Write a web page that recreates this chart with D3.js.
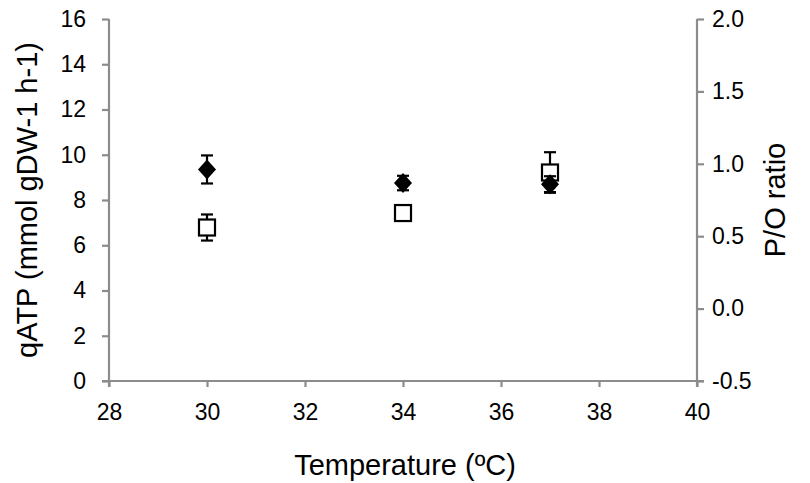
<!DOCTYPE html>
<html>
<head>
<meta charset="utf-8">
<script src="https://cdn.jsdelivr.net/npm/d3@7"></script>
<style>
  body { margin: 0; background: #fff; }
  text { font-family: "Liberation Sans", Arial, sans-serif; fill: #000; }
</style>
</head>
<body>
<script>
// Data
const temps = [30, 34, 37];
const qATP = [9.35, 8.75, 8.7];
const qATPErr = [0.62, 0.32, 0.35];
const poRatio = [0.56, 0.66, 0.94];
const poErr = [0.09, 0.0, 0.14];
const xTicks = [28, 30, 32, 34, 36, 38, 40];
const yLeftTicks = [0, 2, 4, 6, 8, 10, 12, 14, 16];
const yRightTicks = [-0.5, 0.0, 0.5, 1.0, 1.5, 2.0];

const width = 810, height = 483;
const plotLeft = 109, plotRight = 697, plotTop = 19, plotBottom = 381;
const axisColor = '#8c8c8c';

const svg = d3.select('body').append('svg')
  .attr('width', width)
  .attr('height', height);

const x = d3.scaleLinear().domain([28, 40]).range([plotLeft, plotRight]);
const yL = d3.scaleLinear().domain([0, 16]).range([plotBottom, plotTop]);
const yR = d3.scaleLinear().domain([-0.5, 2.0]).range([plotBottom, plotTop]);

// x axis
const xAxis = svg.append('g')
  .attr('transform', `translate(0,${plotBottom})`)
  .call(d3.axisBottom(x).tickValues(xTicks).tickSize(6).tickPadding(17).tickFormat(d3.format('d')));
xAxis.select('.domain').attr('d', `M${plotLeft - 7},0H${plotRight + 7}`);

// left axis
const yAxisL = svg.append('g')
  .attr('transform', `translate(${plotLeft},0)`)
  .call(d3.axisLeft(yL).tickValues(yLeftTicks).tickSize(7).tickPadding(16).tickFormat(d3.format('d')));
yAxisL.select('.domain').attr('d', `M0,${plotTop}V${plotBottom + 6}`);

// right axis (plain hyphen for negatives, like the original)
const yAxisR = svg.append('g')
  .attr('transform', `translate(${plotRight},0)`)
  .call(d3.axisRight(yR).tickValues(yRightTicks).tickSize(7).tickPadding(8)
    .tickFormat((d) => d.toFixed(1)));
yAxisR.select('.domain').attr('d', `M0,${plotTop}V${plotBottom + 6}`);

svg.selectAll('.domain').attr('stroke', axisColor).attr('stroke-width', 2.2);
svg.selectAll('.tick line').attr('stroke', axisColor).attr('stroke-width', 2.2);
svg.selectAll('.tick text')
  .attr('font-size', 23)
  .attr('fill', '#000')
  .attr('font-family', '"Liberation Sans", Arial, sans-serif');

// error bars helper
function errBar(cx, yTop, yBot) {
  const g = svg.append('g').attr('stroke', '#000').attr('stroke-width', 2.2);
  g.append('line').attr('x1', cx).attr('x2', cx).attr('y1', yTop).attr('y2', yBot);
  g.append('line').attr('x1', cx - 6).attr('x2', cx + 6).attr('y1', yTop).attr('y2', yTop);
  g.append('line').attr('x1', cx - 6).attr('x2', cx + 6).attr('y1', yBot).attr('y2', yBot);
}

// P/O ratio: open squares
temps.forEach((t, i) => {
  if (poErr[i] > 0) errBar(x(t), yR(poRatio[i] + poErr[i]), yR(poRatio[i] - poErr[i]));
});
svg.append('g').selectAll('rect')
  .data(temps)
  .join('rect')
  .attr('x', (d) => x(d) - 8)
  .attr('y', (d, i) => yR(poRatio[i]) - 8)
  .attr('width', 16)
  .attr('height', 16)
  .attr('fill', '#fff')
  .attr('stroke', '#000')
  .attr('stroke-width', 2.2);

// qATP: filled diamonds
temps.forEach((t, i) => {
  errBar(x(t), yL(qATP[i] + qATPErr[i]), yL(qATP[i] - qATPErr[i]));
});
svg.append('g').selectAll('path')
  .data(temps)
  .join('path')
  .attr('transform', (d, i) => `translate(${x(d)},${yL(qATP[i])})`)
  .attr('d', 'M0,-10L9,0L0,10L-9,0Z')
  .attr('fill', '#000');

// axis titles
svg.append('text')
  .attr('transform', `translate(37,${(plotTop + plotBottom) / 2}) rotate(-90)`)
  .attr('text-anchor', 'middle')
  .attr('font-size', 29)
  .text('qATP (mmol gDW-1 h-1)');

svg.append('text')
  .attr('transform', `translate(785,${(plotTop + plotBottom) / 2}) rotate(-90)`)
  .attr('text-anchor', 'middle')
  .attr('font-size', 29)
  .text('P/O ratio');

svg.append('text')
  .attr('x', 405)
  .attr('y', 475)
  .attr('text-anchor', 'middle')
  .attr('font-size', 29)
  .text('Temperature (ºC)');
</script>
</body>
</html>
